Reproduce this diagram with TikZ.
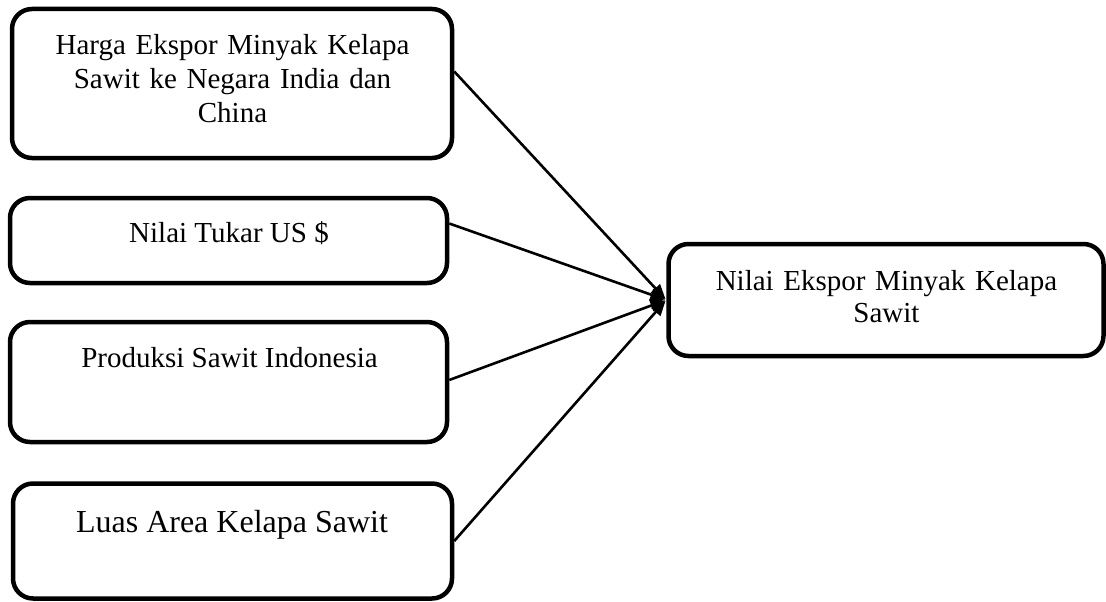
\documentclass[tikz,border=0pt]{standalone}
\usepackage{fontspec}
\setmainfont{Liberation Serif}
\usetikzlibrary{arrows.meta}
\tikzset{
  box/.style={draw, line width=4.5pt, rounded corners=20pt, inner sep=0pt},
  txt/.style={anchor=base, inner sep=0pt, align=center, font=\fontsize{29}{34}\selectfont},
  arrow/.style={-{Triangle[length=15pt,width=12pt]}, line width=2.6pt, shorten >=1pt}
}
\begin{document}
\begin{tikzpicture}[x=1pt,y=-1pt]
\useasboundingbox (0,0) rectangle (1106,602);
\node[box, minimum width=440pt, minimum height=149pt] (b1) at (232,83.5) {};
\node[box, minimum width=437pt, minimum height=85pt] (b2) at (228.5,240.5) {};
\node[box, minimum width=437pt, minimum height=120pt] (b3) at (228.5,382) {};
\node[box, minimum width=439pt, minimum height=115pt] (b4) at (232.5,541) {};
\node[box, minimum width=435pt, minimum height=112pt] (res) at (886,300) {};
\node[txt, text width=400pt] (t1) at (232.5,55) {Harga Ekspor Minyak Kelapa\\Sawit ke Negara India dan\\China};
\node[txt] (t2) at (229,242) {Nilai Tukar US \$};
\node[txt] (t3) at (229.5,367) {Produksi Sawit Indonesia};
\node[txt, font=\fontsize{32}{38}\selectfont] (t4) at (232,532) {Luas Area Kelapa Sawit};
\node[txt, text width=400pt, font=\fontsize{29}{32.3}\selectfont] (tres) at (886.5,290.5) {Nilai Ekspor Minyak Kelapa\\Sawit};
\foreach \s/\d in {b1/12,b2/17,b3/2,b4/0}
\draw[arrow] ([yshift=\d pt]\s.east) -- (res.west);
\end{tikzpicture}
\end{document}
